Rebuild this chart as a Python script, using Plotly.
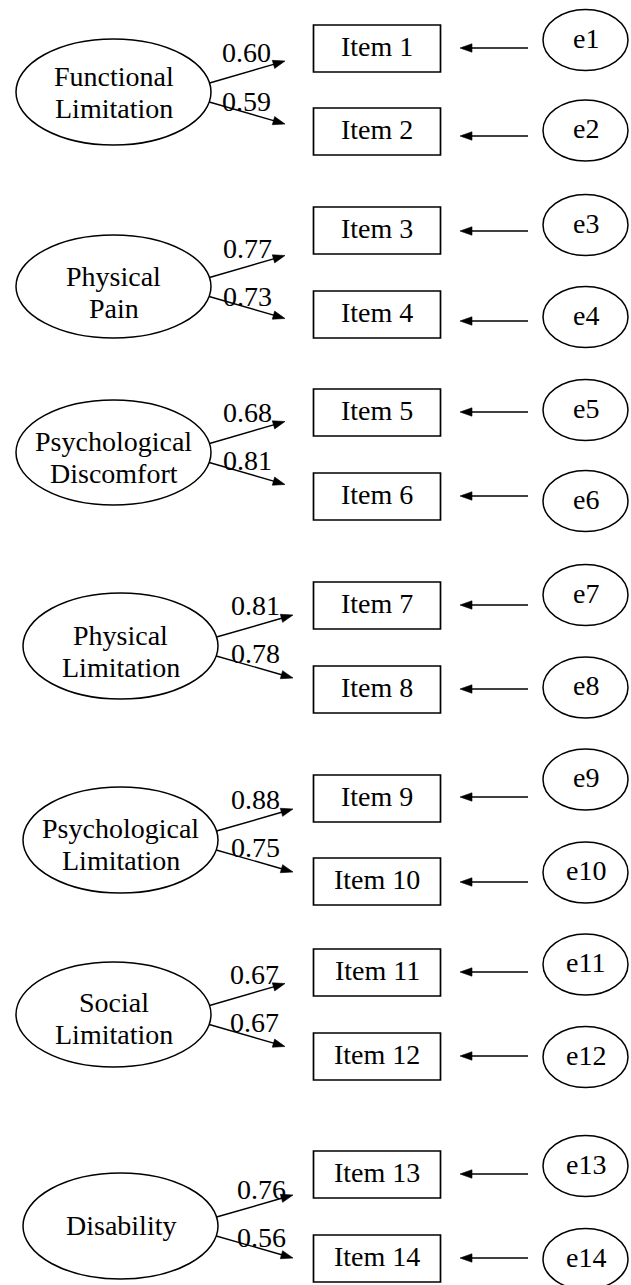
import math
import plotly.graph_objects as go

# ---------------- data ----------------
factor_labels = ["Functional<br>Limitation", "Physical<br>Pain", "Psychological<br>Discomfort",
                 "Physical<br>Limitation", "Psychological<br>Limitation", "Social<br>Limitation",
                 "Disability"]
loadings_upper = [0.60, 0.77, 0.68, 0.81, 0.88, 0.67, 0.76]
loadings_lower = [0.59, 0.73, 0.81, 0.78, 0.75, 0.67, 0.56]
item_labels = ["Item 1", "Item 2", "Item 3", "Item 4", "Item 5", "Item 6", "Item 7",
               "Item 8", "Item 9", "Item 10", "Item 11", "Item 12", "Item 13", "Item 14"]
error_labels = ["e1", "e2", "e3", "e4", "e5", "e6", "e7",
                "e8", "e9", "e10", "e11", "e12", "e13", "e14"]

# ---------------- layout (pixel coordinates) ----------------
W, H = 631, 1285
factor_cy = [92, 286.5, 452.5, 646, 840, 1014.5, 1226]
factor_ry = [53, 51.5, 52.5, 53, 53, 52.5, 53]
factor_x0 = [16, 16, 16, 23, 23, 16, 23]
factor_x1 = [211, 211, 211, 218, 218, 211, 218]
factor_text_dy = [1, 7, 5.5, 6.5, 5, 4.5, 0]
label_x = [246, 247, 247, 255, 255, 254, 261]
label_dy_up = [-40, -38.5, -40.5, -41, -41, -40.5, -37]
label_dy_lo = [9, 9.5, 7.5, 7, 7, 7.5, 11]
tip_x = [285, 285, 285, 293, 293, 285, 293]

item_top = [25, 108, 207, 291, 389, 473, 582, 666, 775, 858, 949, 1033, 1151, 1235]
item_h = 47
item_x0, item_x1 = 313.5, 440.5
item_arrow_y = [48, 136, 231, 321, 412, 496, 605, 689, 797, 882, 972, 1056, 1174, 1258]
arrow_tail_x, arrow_tip_x = 528, 460
err_cy = [40, 130.5, 225, 317, 410, 501, 595, 687.5, 779.5, 872.5, 964.5, 1057, 1166, 1259]
err_ry = 30.5
err_x0, err_x1 = 543, 628

FONT = dict(family="Liberation Serif, Times New Roman, serif", size=28, color="black")
LINE = dict(color="black", width=1.5)

shapes = []
annotations = []


def arrow(x0, y0, x1, y1, length=12, half=4.2):
    dx, dy = x1 - x0, y1 - y0
    d = math.hypot(dx, dy)
    ux, uy = dx / d, dy / d
    bx, by = x1 - ux * length, y1 - uy * length
    nx, ny = -uy, ux
    shapes.append(dict(type="line", xref="x", yref="y", x0=x0, y0=y0, x1=bx + ux * 1, y1=by + uy * 1,
                       line=dict(color="black", width=1.4)))
    path = f"M {x1},{y1} L {bx + nx * half},{by + ny * half} L {bx - nx * half},{by - ny * half} Z"
    shapes.append(dict(type="path", xref="x", yref="y", path=path, fillcolor="black",
                       line=dict(color="black", width=0.6)))


def text(x, y, s):
    annotations.append(dict(x=x, y=y, xref="x", yref="y", text=s, showarrow=False,
                            font=FONT, xanchor="center", yanchor="middle"))


for g in range(len(factor_labels)):
    cy, ry = factor_cy[g], factor_ry[g]
    x0, x1 = factor_x0[g], factor_x1[g]
    cx, rx = (x0 + x1) / 2, (x1 - x0) / 2
    shapes.append(dict(type="circle", xref="x", yref="y", x0=x0, x1=x1, y0=cy - ry, y1=cy + ry,
                       line=LINE, fillcolor="rgba(0,0,0,0)"))
    lines = factor_labels[g].split("<br>")
    mid = cy + factor_text_dy[g]
    n = len(lines)
    for k, ln in enumerate(lines):
        text(cx, mid + (k - (n - 1) / 2) * 32 - 1, ln)
    # loading arrows
    for sdy, tdy, val, ldy in ((-9, -31, loadings_upper[g], label_dy_up[g]),
                               (10, 32, loadings_lower[g], label_dy_lo[g])):
        sx = cx + rx * math.sqrt(1 - (sdy / ry) ** 2)
        arrow(sx, cy + sdy, tip_x[g], cy + tdy)
        text(label_x[g], cy + ldy, f"{val:.2f}")

for i in range(len(item_labels)):
    top = item_top[i]
    shapes.append(dict(type="rect", xref="x", yref="y", x0=item_x0, x1=item_x1, y0=top, y1=top + item_h,
                       line=dict(color="black", width=1.7), fillcolor="rgba(0,0,0,0)"))
    text((item_x0 + item_x1) / 2, top + item_h / 2 - 2, item_labels[i])
    arrow(arrow_tail_x, item_arrow_y[i], arrow_tip_x, item_arrow_y[i])
    shapes.append(dict(type="circle", xref="x", yref="y", x0=err_x0, x1=err_x1,
                       y0=err_cy[i] - err_ry, y1=err_cy[i] + err_ry,
                       line=LINE, fillcolor="rgba(0,0,0,0)"))
    text((err_x0 + err_x1) / 2, err_cy[i] - 2, error_labels[i])

fig = go.Figure()
fig.add_trace(go.Scatter(x=[0, W], y=[0, H], mode="markers", marker=dict(opacity=0),
                         hoverinfo="skip", showlegend=False))
fig.update_layout(
    width=W, height=H, margin=dict(l=0, r=0, t=0, b=0),
    paper_bgcolor="white", plot_bgcolor="white",
    xaxis=dict(range=[0, W], visible=False, fixedrange=True),
    yaxis=dict(range=[H, 0], visible=False, fixedrange=True),
    shapes=shapes, annotations=annotations, showlegend=False,
)
fig.write_html("out.html", config={"displayModeBar": False},
               post_script="document.body.style.margin='0';document.body.style.overflow='hidden';")
